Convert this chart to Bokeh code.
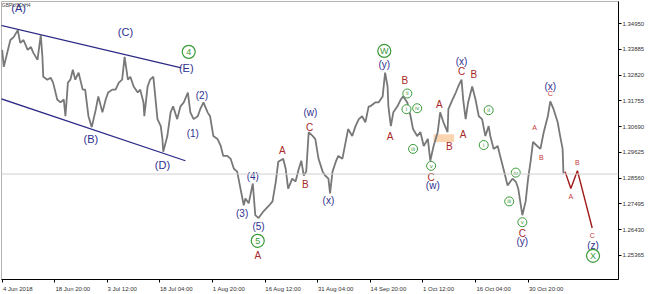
from bokeh.plotting import figure
from bokeh.models import Range1d, FixedTicker, Label, Span, NumeralTickFormatter
from bokeh.embed import file_html
from bokeh.resources import INLINE
from bokeh.core.properties import value

# ---- price series (H4 bar index, close approx) ----
bars = [0, 2, 7, 10, 14, 19, 22, 26, 31, 35, 38, 43, 47, 49, 50, 55, 59, 62, 67, 71,
        75, 77, 80, 83, 86, 89, 93, 98, 101, 105, 109, 114, 117, 122, 126, 129, 134, 138, 142, 146,
        149, 153, 156, 160, 165, 168, 172, 173, 177, 180, 184, 187, 189, 193, 195, 196, 201, 205, 208, 213,
        217, 221, 226, 229, 233, 238, 241, 245, 250, 253, 257, 262, 266, 269, 274, 278, 282, 286, 290, 294,
        296, 300, 305, 308, 312, 318, 324, 329, 333, 336, 342, 345, 348, 353, 357, 361, 364, 367, 370, 373,
        378, 381, 385, 390, 393, 397, 399, 402, 406, 409, 414, 418, 421, 426, 430, 434, 438, 442, 446, 448,
        454, 458, 463, 466, 469, 470, 473, 476, 481, 485, 488, 493, 497, 500, 505, 509, 513, 518, 521, 525,
        530, 533, 537, 542, 543, 548, 552, 555, 559, 561, 564, 567, 572, 576, 580, 584, 588, 592, 594, 598,
        603, 606, 610, 615, 621, 625, 628, 633, 637, 640, 643, 646, 651, 655, 659, 664, 667, 671, 676, 679,
        682, 683]
prices = [1.3386, 1.3316, 1.3386, 1.3427, 1.3439, 1.3468, 1.3415, 1.3427, 1.3386, 1.3398, 1.3374, 1.3345, 1.3447, 1.3357, 1.3275, 1.3263, 1.3271, 1.3251, 1.3181, 1.3169,
          1.3181, 1.3112, 1.3251, 1.3263, 1.3304, 1.3263, 1.3292, 1.3222, 1.3222, 1.3112, 1.3067, 1.3141, 1.3194, 1.3128, 1.3181, 1.3210, 1.3222, 1.3222, 1.3251, 1.3263,
          1.3357, 1.3263, 1.3275, 1.3235, 1.3210, 1.3222, 1.3169, 1.3112, 1.3235, 1.3263, 1.3275, 1.3169, 1.3100, 1.3071, 1.3018, 1.2965, 1.3030, 1.3128, 1.3153, 1.3100,
          1.3153, 1.3169, 1.3210, 1.3128, 1.3100, 1.3112, 1.3141, 1.3169, 1.3128, 1.3112, 1.3030, 1.3018, 1.2989, 1.2948, 1.2948, 1.2936, 1.2895, 1.2883, 1.2813, 1.2744,
          1.2772, 1.2752, 1.2834, 1.2703, 1.2691, 1.2719, 1.2740, 1.2760, 1.2842, 1.2924, 1.2936, 1.2895, 1.2813, 1.2854, 1.2842, 1.2895, 1.2928, 1.2867, 1.2883, 1.3046,
          1.3030, 1.3018, 1.2936, 1.2883, 1.2867, 1.2854, 1.2793, 1.2883, 1.2924, 1.2948, 1.2936, 1.3006, 1.3059, 1.3030, 1.3071, 1.3100, 1.3112, 1.3087, 1.3153, 1.3153,
          1.3169, 1.3169, 1.3194, 1.3292, 1.3235, 1.3153, 1.3071, 1.3128, 1.3153, 1.3181, 1.3194, 1.3169, 1.3112, 1.3059, 1.3030, 1.3046, 1.2989, 1.3018, 1.2928, 1.2989,
          1.3046, 1.3128, 1.3087, 1.3046, 1.3141, 1.3181, 1.3210, 1.3235, 1.3263, 1.3181, 1.3100, 1.3169, 1.3235, 1.3181, 1.3112, 1.3100, 1.3030, 1.3071, 1.3030, 1.2977,
          1.2989, 1.2948, 1.2895, 1.2826, 1.2854, 1.2842, 1.2813, 1.2703, 1.2760, 1.2854, 1.2924, 1.3006, 1.2989, 1.2977, 1.3046, 1.3112, 1.3173, 1.3141, 1.3087, 1.3030,
          1.2977, 1.2875]
last_price = 1.28730

# ---- forecast path (red) ----
fc_bars = [685, 692, 700, 718]
fc_prices = [1.2883, 1.2813, 1.2887, 1.2650]

# ---- channel lines ----
ch_x0 = [-2, -2]
ch_y0 = [1.3488, 1.3185]
ch_x1 = [218, 223]
ch_y1 = [1.3312, 1.2928]

# ---- highlighted zone ----
zone_left, zone_right, zone_bottom, zone_top = 525, 550, 1.3006, 1.3038

# ---- axis ticks ----
x_ticks = [0, 64, 128, 192, 256, 320, 384, 448, 512, 576, 640]
x_labels = ["4 Jun 2018", "18 Jun 20:00", "3 Jul 12:00", "18 Jul 04:00", "1 Aug 20:00",
            "16 Aug 12:00", "31 Aug 04:00", "14 Sep 20:00", "1 Oct 12:00", "16 Oct 04:00",
            "30 Oct 20:00"]
y_ticks = [1.25365, 1.26430, 1.27495, 1.28560, 1.29625, 1.30690, 1.31755, 1.32820, 1.33885, 1.34950]

# ---- wave labels ----
navy_big_x = [20, 150, 224, 108, 195]
navy_big_y = [1.3558, 1.3459, 1.3312, 1.3018, 1.2912]
navy_big_t = ["(A)", "(C)", "(E)", "(B)", "(D)"]

navy_x = [243, 232, 292, 305, 312, 375, 397, 465, 524, 559, 633, 667, 719]
navy_y = [1.3198, 1.3042, 1.2711, 1.2862, 1.2658, 1.3128, 1.2764, 1.3325, 1.2826, 1.3337, 1.2593, 1.3235, 1.2576]
navy_t = ["(2)", "(1)", "(3)", "(4)", "(5)", "(w)", "(x)", "(y)", "(w)", "(x)", "(y)", "(x)", "(z)"]

red_x = [311, 341, 369, 374, 490, 472, 522, 532, 544, 559, 574, 561, 633]
red_y = [1.2535, 1.2969, 1.2830, 1.3067, 1.3259, 1.3030, 1.2858, 1.3161, 1.2985, 1.3296, 1.3284, 1.3038, 1.2629]
red_t = ["A", "A", "B", "C", "B", "A", "C", "A", "B", "C", "B", "A", "C"]

red_small_x = [648, 656, 667, 692, 700, 718]
red_small_y = [1.3067, 1.2940, 1.3206, 1.2781, 1.2920, 1.2617]
red_small_t = ["A", "B", "C", "A", "B", "C"]

gbig_x = [227, 311, 465, 719]
gbig_y = [1.3378, 1.2597, 1.3382, 1.2535]
gbig_t = ["4", "5", "W", "X"]

gsm_x = [493, 492, 505, 500, 522, 592, 586, 625, 617, 633]
gsm_y = [1.3206, 1.3141, 1.3145, 1.2977, 1.2907, 1.3137, 1.2993, 1.2879, 1.2760, 1.2674]
gsm_t = ["ii", "i", "iv", "iii", "v", "ii", "i", "iv", "iii", "v"]

NAVY = "#2f2f8f"
RED = "#a82828"
GREEN = "#3a9a3a"
FONT = value("Liberation Sans")
LABEL_PX = 6

p = figure(width=650, height=294, output_backend="svg", toolbar_location=None,
           x_range=Range1d(-0.8, 750), y_range=Range1d(1.24372, 1.35862),
           y_axis_location="right", min_border_left=1, min_border_top=1,
           min_border_right=32, min_border_bottom=12)
p.grid.visible = False
p.outline_line_color = "#b4b4b4"
p.background_fill_color = "white"

# current price line
p.add_layout(Span(location=last_price, dimension="width", line_color="#cfcfcf", line_width=1))

p.quad(left=[zone_left], right=[zone_right], bottom=[zone_bottom], top=[zone_top],
       fill_color="#fbd5b0", line_color=None)

p.segment(x0=ch_x0, y0=ch_y0, x1=ch_x1, y1=ch_y1, line_color="#2a2a86", line_width=1.3)

p.line(bars, prices, line_color="#787878", line_width=1.8)
p.line(fc_bars, fc_prices, line_color="#a01818", line_width=1.4)

p.text(navy_big_x, navy_big_y, text=navy_big_t, text_color=NAVY, text_font=FONT,
       text_font_size="11px", text_align="center", text_baseline="middle")
p.text(navy_x, navy_y, text=navy_t, text_color=NAVY, text_font=FONT,
       text_font_size="10px", text_align="center", text_baseline="middle")
p.text(red_x, red_y, text=red_t, text_color=RED, text_font=FONT,
       text_font_size="10px", text_align="center", text_baseline="middle")
p.text(red_small_x, red_small_y, text=red_small_t, text_color="#c03838", text_font=FONT,
       text_font_size="7px", text_align="center", text_baseline="middle")

p.scatter(gbig_x, gbig_y, marker="circle", size=13, fill_color="white", line_color=GREEN, line_width=1.2)
p.text(gbig_x, gbig_y, text=gbig_t, text_color=GREEN, text_font=FONT,
       text_font_size="9px", text_align="center", text_baseline="middle")
p.scatter(gsm_x, gsm_y, marker="circle", size=9, fill_color="white", line_color=GREEN, line_width=1)
p.text(gsm_x, gsm_y, text=gsm_t, text_color=GREEN, text_font=FONT,
       text_font_size="6px", text_align="center", text_baseline="middle")

p.add_layout(Label(x=-0.5, y=1.3584, text="GBPUSD,H4", text_font_size="5px", text_color="#444444",
                   text_font="Liberation Sans", text_baseline="top", text_align="left"))

# price box on the axis
p.add_layout(Label(x=753, y=last_price, text=f"{last_price:.5f}", text_font_size="6px",
                   text_color="white", text_font="Liberation Sans", text_baseline="middle",
                   text_align="left", background_fill_color="#a8a8a8", padding=1))

# ---- bottom axis: labels start at each tick (MT4 style); tick marks drawn as minor ticks ----
ADV = {"0": .556, "1": .556, "2": .556, "3": .556, "4": .556, "5": .556, "6": .556, "7": .556,
       "8": .556, "9": .556, " ": .278, ":": .278, "J": .5, "u": .556, "n": .556, "l": .222,
       "A": .667, "g": .556, "O": .778, "c": .5, "t": .278, "S": .667, "e": .556, "p": .556}
bars_per_px = (x_ticks[1] - x_ticks[0]) / 52.6
lab_pos = []
for t, l in zip(x_ticks, x_labels):
    w = sum(ADV.get(ch, .556) for ch in l) * LABEL_PX
    lab_pos.append(int(round(t + (w / 2 + 0.5) * bars_per_px)))

xa = p.xaxis[0]
xa.ticker = FixedTicker(ticks=lab_pos, minor_ticks=x_ticks)
xa.major_label_overrides = {pos: l for pos, l in zip(lab_pos, x_labels)}
xa.major_label_text_font = "Liberation Sans"
xa.major_label_text_font_size = f"{LABEL_PX}px"
xa.major_label_text_color = "#333333"
xa.major_label_standoff = 3
xa.major_tick_in = 0
xa.major_tick_out = 0
xa.major_tick_line_color = None
xa.minor_tick_in = 0
xa.minor_tick_out = 3
xa.minor_tick_line_color = "black"
xa.axis_line_color = "black"

ya = p.yaxis[0]
ya.ticker = FixedTicker(ticks=y_ticks)
ya.formatter = NumeralTickFormatter(format="0.00000")
ya.major_label_text_font = "Liberation Sans"
ya.major_label_text_font_size = "6px"
ya.major_label_text_color = "#333333"
ya.major_label_standoff = 1
ya.major_tick_in = 0
ya.major_tick_out = 3
ya.minor_tick_out = 0
ya.minor_tick_in = 0
ya.axis_line_color = "black"
ya.major_tick_line_color = "black"

open("out.html", "w").write(file_html(p, INLINE))
